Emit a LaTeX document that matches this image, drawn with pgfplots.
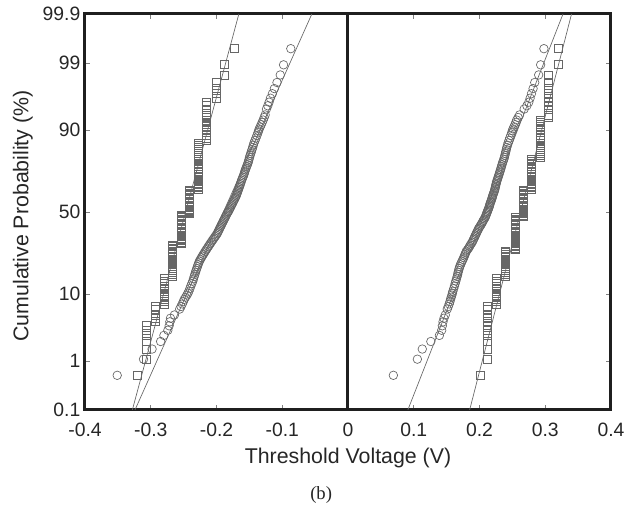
\documentclass[border=0pt]{standalone}
\usepackage{pgfplots}
\usepackage{pgfplotstable}
\pgfplotsset{compat=1.18}
\usepackage{fontspec}
\setmainfont{Liberation Sans}
\newfontfamily\seriffont{Liberation Serif}

\pgfplotstableread{
z lc ls rc rs
-2.549 -0.351 -0.320 0.069 0.2008
-2.297 -0.311 -0.3065 0.1055 0.212
-2.139 -0.298 -0.3065 0.113 0.212
-2.021 -0.285 -0.3065 0.126 0.212
-1.926 -0.280 -0.3065 0.139 0.212
-1.846 -0.274 -0.3065 0.1425 0.212
-1.776 -0.272 -0.3065 0.1435 0.212
-1.714 -0.271 -0.2935 0.1445 0.212
-1.658 -0.270 -0.2935 0.146 0.212
-1.607 -0.264 -0.2935 0.148 0.212
-1.515 -0.256 -0.2935 0.151 0.212
-1.475 -0.254 -0.2935 0.1525 0.212
-1.435 -0.252 -0.280 0.154 0.226
-1.399 -0.2505 -0.280 0.155 0.226
-1.363 -0.249 -0.280 0.156 0.226
-1.330 -0.247 -0.280 0.157 0.226
-1.297 -0.245 -0.280 0.158 0.226
-1.267 -0.2435 -0.280 0.1588 0.226
-1.237 -0.242 -0.280 0.1595 0.226
-1.195 -0.2405 -0.280 0.1608 0.226
-1.154 -0.239 -0.280 0.162 0.226
-1.116 -0.2375 -0.280 0.163 0.226
-1.078 -0.236 -0.280 0.164 0.226
-1.043 -0.235 -0.280 0.165 0.226
-1.008 -0.234 -0.2667 0.166 0.240
-0.975 -0.233 -0.2667 0.1668 0.240
-0.942 -0.232 -0.2667 0.1675 0.240
-0.911 -0.231 -0.2667 0.1683 0.240
-0.881 -0.230 -0.2667 0.169 0.240
-0.851 -0.229 -0.2667 0.170 0.240
-0.822 -0.228 -0.2667 0.171 0.240
-0.794 -0.227 -0.2667 0.1723 0.240
-0.767 -0.226 -0.2667 0.1735 0.240
-0.740 -0.2245 -0.2667 0.1748 0.240
-0.713 -0.223 -0.2667 0.176 0.240
-0.687 -0.2215 -0.2667 0.177 0.240
-0.662 -0.220 -0.2667 0.178 0.240
-0.637 -0.2185 -0.2667 0.179 0.240
-0.612 -0.217 -0.2667 0.180 0.240
-0.588 -0.2155 -0.2667 0.1818 0.254
-0.564 -0.214 -0.2667 0.1835 0.254
-0.540 -0.2125 -0.2667 0.1848 0.254
-0.517 -0.211 -0.2667 0.186 0.254
-0.494 -0.2095 -0.254 0.1875 0.254
-0.471 -0.208 -0.254 0.189 0.254
-0.448 -0.2065 -0.254 0.190 0.254
-0.426 -0.205 -0.254 0.191 0.254
-0.404 -0.2035 -0.254 0.192 0.254
-0.382 -0.202 -0.254 0.193 0.254
-0.360 -0.2005 -0.254 0.194 0.254
-0.338 -0.199 -0.254 0.195 0.254
-0.317 -0.198 -0.254 0.196 0.254
-0.296 -0.197 -0.254 0.197 0.254
-0.274 -0.196 -0.254 0.198 0.254
-0.253 -0.195 -0.254 0.199 0.254
-0.232 -0.194 -0.254 0.2003 0.254
-0.212 -0.193 -0.254 0.2015 0.254
-0.191 -0.192 -0.254 0.2028 0.254
-0.170 -0.191 -0.254 0.204 0.254
-0.149 -0.190 -0.254 0.205 0.254
-0.129 -0.189 -0.254 0.206 0.254
-0.108 -0.188 -0.254 0.2073 0.254
-0.088 -0.187 -0.254 0.2085 0.254
-0.067 -0.186 -0.254 0.2093 0.2667
-0.047 -0.185 -0.254 0.210 0.2667
-0.027 -0.184 -0.2413 0.2108 0.2667
-0.007 -0.183 -0.2413 0.2115 0.2667
0.007 -0.182 -0.2413 0.212 0.2667
0.027 -0.181 -0.2413 0.2128 0.2667
0.047 -0.180 -0.2413 0.2135 0.2667
0.067 -0.179 -0.2413 0.2143 0.2667
0.088 -0.178 -0.2413 0.215 0.2667
0.108 -0.177 -0.2413 0.2155 0.2667
0.129 -0.176 -0.2413 0.216 0.2667
0.149 -0.175 -0.2413 0.2168 0.2667
0.170 -0.174 -0.2413 0.2175 0.2667
0.191 -0.173 -0.2413 0.2183 0.2667
0.212 -0.172 -0.2413 0.219 0.2667
0.232 -0.171 -0.2413 0.2195 0.2667
0.253 -0.170 -0.2413 0.220 0.2667
0.274 -0.1693 -0.2413 0.2208 0.2667
0.296 -0.1685 -0.2413 0.2215 0.2667
0.317 -0.1678 -0.2413 0.2223 0.2667
0.338 -0.167 -0.2413 0.223 0.2667
0.360 -0.1663 -0.2277 0.2235 0.279
0.382 -0.1655 -0.2277 0.224 0.279
0.404 -0.1648 -0.2277 0.2245 0.279
0.426 -0.164 -0.2277 0.225 0.279
0.448 -0.1633 -0.2277 0.2255 0.279
0.471 -0.1625 -0.2277 0.226 0.279
0.494 -0.1618 -0.2277 0.2268 0.279
0.517 -0.161 -0.2277 0.2275 0.279
0.540 -0.160 -0.2277 0.2283 0.279
0.564 -0.159 -0.2277 0.229 0.279
0.588 -0.1583 -0.2277 0.2298 0.279
0.612 -0.1575 -0.2277 0.2305 0.279
0.637 -0.1568 -0.2277 0.2313 0.279
0.662 -0.156 -0.2277 0.232 0.279
0.687 -0.155 -0.2277 0.2328 0.279
0.713 -0.154 -0.2277 0.2335 0.279
0.740 -0.153 -0.2277 0.2343 0.279
0.767 -0.152 -0.2277 0.235 0.279
0.794 -0.1513 -0.2277 0.236 0.279
0.822 -0.1505 -0.2277 0.237 0.279
0.851 -0.1498 -0.2277 0.2378 0.292
0.881 -0.149 -0.2277 0.2385 0.292
0.911 -0.148 -0.2277 0.2393 0.292
0.942 -0.147 -0.2277 0.240 0.292
0.975 -0.146 -0.2277 0.2408 0.292
1.008 -0.145 -0.2277 0.2415 0.292
1.043 -0.144 -0.2277 0.2425 0.292
1.078 -0.143 -0.2277 0.2435 0.292
1.116 -0.1415 -0.215 0.2448 0.292
1.154 -0.140 -0.215 0.246 0.292
1.195 -0.1385 -0.215 0.2475 0.292
1.237 -0.137 -0.215 0.249 0.292
1.267 -0.136 -0.215 0.250 0.292
1.297 -0.135 -0.215 0.251 0.292
1.330 -0.1335 -0.215 0.2525 0.292
1.363 -0.132 -0.215 0.254 0.292
1.399 -0.1305 -0.215 0.2553 0.292
1.435 -0.129 -0.215 0.2565 0.292
1.475 -0.1275 -0.215 0.2588 0.3046
1.515 -0.126 -0.215 0.261 0.3046
1.607 -0.124 -0.215 0.268 0.3046
1.658 -0.122 -0.215 0.272 0.3046
1.714 -0.120 -0.215 0.275 0.3046
1.776 -0.118 -0.2008 0.277 0.3046
1.846 -0.115 -0.2008 0.279 0.3046
1.926 -0.112 -0.2008 0.2815 0.3046
2.021 -0.108 -0.2008 0.284 0.3046
2.139 -0.103 -0.1886 0.290 0.3046
2.297 -0.098 -0.1886 0.293 0.320
2.549 -0.087 -0.173 0.298 0.320
}\vtdata

\begin{document}
\begin{tikzpicture}
\path (-63.75pt,-75pt) rectangle (416.25pt,307.5pt);
\begin{axis}[
  name=ax, at={(0,0)}, anchor=south west,
  scale only axis, width=394.5pt, height=297pt,
  xmin=-0.4, xmax=0.4, ymin=-3.0902, ymax=3.0902,
  xtick={-0.4,-0.3,-0.2,-0.1,0,0.1,0.2,0.3,0.4},
  xticklabels={-0.4,-0.3,-0.2,-0.1,0,0.1,0.2,0.3,0.4},
  ytick={-3.0902,-2.3263,-1.2816,0,1.2816,2.3263,3.0902},
  yticklabels={0.1,1,10,50,90,99,99.9},
  tick align=inside, major tick length=4pt,
  tick style={black!50, line width=0.5pt},
  axis line style={line width=2.25pt, black!88},
  ticklabel style={font=\fontsize{14.5}{16}\selectfont, text=black!85},
  xticklabel style={yshift=-6pt},
  xlabel={Threshold Voltage (V)},
  ylabel={Cumulative Probability (\%)},
  xlabel style={font=\fontsize{16}{18}\selectfont, text=black!85, at={(axis description cs:0.5,-0.121)}, anchor=center},
  ylabel style={font=\fontsize{16}{18}\selectfont, text=black!85, at={(axis description cs:-0.118,0.49)}, anchor=center},
]
\addplot[line width=2.25pt, black!88, forget plot] coordinates {(0,-3.0902) (0,3.0902)};
\addplot[black!60, line width=0.5pt] coordinates {(-0.324,-3.0902) (-0.055,3.0902)};
\addplot[black!60, line width=0.5pt] coordinates {(-0.328,-3.0902) (-0.166,3.0902)};
\addplot[black!60, line width=0.5pt] coordinates {(0.091,-3.0902) (0.327,3.0902)};
\addplot[black!60, line width=0.5pt] coordinates {(0.185,-3.0902) (0.340,3.0902)};
\addplot[only marks, mark=o, mark size=3.2pt, mark options={black!60, line width=0.5pt}] table[x=lc, y=z]{\vtdata};
\addplot[only marks, mark=square, mark size=3pt, mark options={black!60, line width=0.5pt}] table[x=ls, y=z]{\vtdata};
\addplot[only marks, mark=o, mark size=3.2pt, mark options={black!60, line width=0.5pt}] table[x=rc, y=z]{\vtdata};
\addplot[only marks, mark=square, mark size=3pt, mark options={black!60, line width=0.5pt}] table[x=rs, y=z]{\vtdata};
\end{axis}
\node[font=\seriffont\fontsize{14}{16}\selectfont, text=black!85] at (177.1pt,-64pt) {(b)};
\end{tikzpicture}
\end{document}
